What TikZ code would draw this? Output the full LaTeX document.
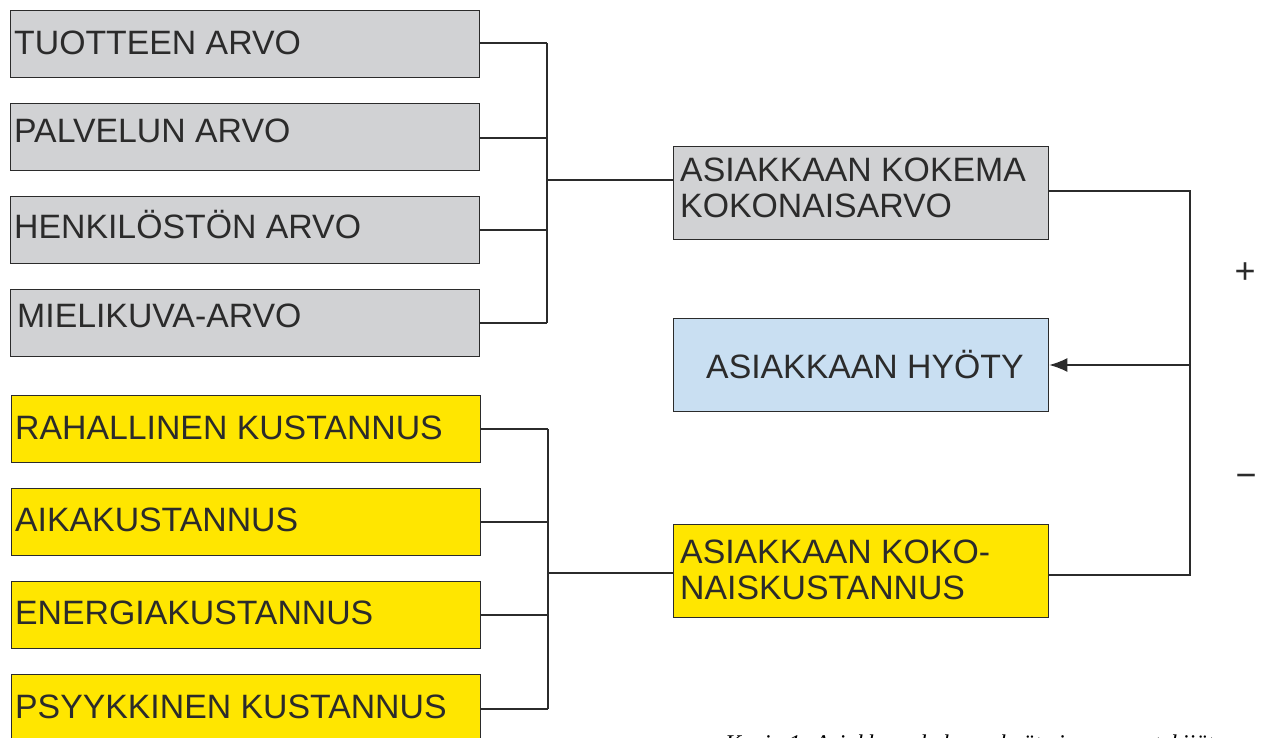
\documentclass[tikz,border=0pt]{standalone}
\usepackage{fontspec}
\setmainfont{Liberation Sans}
\newfontfamily\capfont{Liberation Serif}
\usetikzlibrary{arrows.meta}
\definecolor{boxgray}{HTML}{D1D2D4}
\definecolor{boxyellow}{HTML}{FFE600}
\definecolor{boxblue}{HTML}{C9DFF2}
\definecolor{linec}{HTML}{2B2B2B}
\tikzset{
  base/.style={draw=linec, line width=1.3pt, inner sep=0pt, anchor=north west},
  graybox/.style={base, fill=boxgray},
  yelbox/.style={base, fill=boxyellow},
  bluebox/.style={base, fill=boxblue},
  lbl/.style={font=\fontsize{33.8}{36}\selectfont, anchor=west, inner sep=0pt, text=linec},
  conn/.style={draw=linec, line width=1.6pt},
  sign/.style={font=\fontsize{36}{38}\selectfont, text=linec, inner sep=0pt},
}
\begin{document}
\begin{tikzpicture}[x=1pt,y=-1pt]
\useasboundingbox (0,0) rectangle (1263,738);
\clip (0,0) rectangle (1263,738);
% left gray boxes
\node[graybox, minimum width=469pt, minimum height=67pt] (g1) at (10,10) {};
\node[graybox, minimum width=469pt, minimum height=67pt] (g2) at (10,103) {};
\node[graybox, minimum width=469pt, minimum height=67pt] (g3) at (10,196) {};
\node[graybox, minimum width=469pt, minimum height=67pt] (g4) at (10,289) {};
\node[lbl] at (14,43) {TUOTTEEN ARVO};
\node[lbl] at (14,131) {PALVELUN ARVO};
\node[lbl] at (14,225) {HENKILÖSTÖN ARVO};
\node[lbl] at (17,316) {MIELIKUVA-ARVO};
% left yellow boxes
\node[yelbox, minimum width=469pt, minimum height=67pt] (y1) at (11,395) {};
\node[yelbox, minimum width=469pt, minimum height=67pt] (y2) at (11,488) {};
\node[yelbox, minimum width=469pt, minimum height=67pt] (y3) at (11,581) {};
\node[yelbox, minimum width=469pt, minimum height=67pt] (y4) at (11,674) {};
\node[lbl] at (15,428) {RAHALLINEN KUSTANNUS};
\node[lbl] at (15,520) {AIKAKUSTANNUS};
\node[lbl] at (15,613) {ENERGIAKUSTANNUS};
\node[lbl] at (15,707) {PSYYKKINEN KUSTANNUS};
% right boxes
\node[graybox, minimum width=375pt, minimum height=93pt] (r1) at (673,146) {};
\node[bluebox, minimum width=375pt, minimum height=93pt] (r2) at (673,318) {};
\node[yelbox, minimum width=375pt, minimum height=93pt] (r3) at (673,524) {};
\node[lbl, align=left] at (680,188) {ASIAKKAAN KOKEMA\\KOKONAISARVO};
\node[lbl] at (706,365) {ASIAKKAAN HYÖTY};
\node[lbl, align=left] at (680,570) {ASIAKKAAN KOKO-\\NAISKUSTANNUS};
% bracket coordinates
\coordinate (bt) at (547,43);
\coordinate (bb) at (547,323);
\coordinate (bm) at (547,180);
\coordinate (ct) at (548,429);
\coordinate (cb) at (548,709);
\coordinate (cm) at (548,573);
\coordinate (rt) at (1190,191);
\coordinate (rb) at (1190,575);
\coordinate (rm) at (1190,365);
% upper bracket
\draw[conn] (g1.east |- bt) -- (bt);
\draw[conn] (g2.east |- 0,138) -- (547,138);
\draw[conn] (g3.east |- 0,230) -- (547,230);
\draw[conn] (g4.east |- bb) -- (bb);
\draw[conn] (bt) -- (bb);
\draw[conn] (bm) -- (r1.west |- bm);
% lower bracket
\draw[conn] (y1.east |- ct) -- (ct);
\draw[conn] (y2.east |- 0,522) -- (548,522);
\draw[conn] (y3.east |- 0,615) -- (548,615);
\draw[conn] (y4.east |- cb) -- (cb);
\draw[conn] (ct) -- (cb);
\draw[conn] (cm) -- (r3.west |- cm);
% right bracket
\draw[conn] (r1.east |- rt) -- (rt) -- (rb) -- (r3.east |- rb);
\draw[conn, -{Latex[length=18pt,width=14pt]}] (rm) -- (r2.east |- rm);
% signs
\node[sign] (plus) at (1245,273) {+};
\node[sign] (minus) at (1246,481) {−};
% caption (cut off)
\node[font=\capfont\itshape\fontsize{24}{26}\selectfont, anchor=base west, inner sep=0pt] (cap) at (725,751) {Kuvio 1. Asiakkaan kokema hyöty ja sen osatekijät};
\end{tikzpicture}
\end{document}
